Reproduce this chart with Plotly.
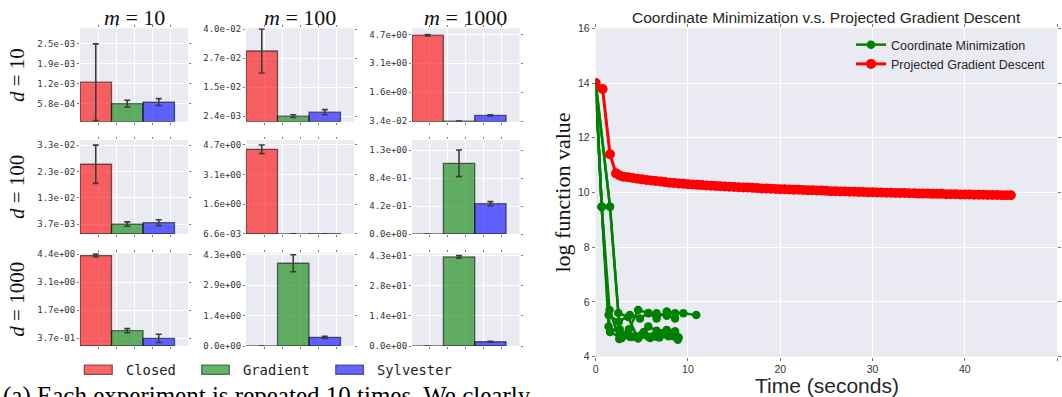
import numpy as np
import plotly.graph_objects as go

W, H = 1062, 397

# ---------------- data: left panel (run time bars) ----------------
methods = ["Closed", "Gradient", "Sylvester"]
d_values = [10, 100, 1000]
m_values = [10, 100, 1000]

# rows: d = 10, 100, 1000 ; columns: m = 10, 100, 1000 ; order: Closed, Gradient, Sylvester
means_d10 = [[1.27e-3, 0.58e-3, 0.63e-3], [3.05e-2, 0.24e-2, 0.41e-2], [4.66, 0.034, 0.34]]
errs_d10 = [[1.23e-3, 0.11e-3, 0.11e-3], [0.95e-2, 0.06e-2, 0.11e-2], [0.04, 0.005, 0.03]]
means_d100 = [[2.59e-2, 0.37e-2, 0.42e-2], [4.47, 0.0066, 0.012], [0.0, 1.06, 0.455]]
errs_d100 = [[0.71e-2, 0.08e-2, 0.11e-2], [0.23, 0.002, 0.003], [0.0, 0.2, 0.03]]
means_d1000 = [[4.37, 0.74, 0.37], [0.0, 3.9, 0.41], [0.0, 42.0, 2.0]]
errs_d1000 = [[0.07, 0.1, 0.2], [0.0, 0.4, 0.05], [0.0, 0.6, 0.2]]

ticklabels_d10 = [["5.8e-04", "1.2e-03", "1.9e-03", "2.5e-03"],
                  ["2.4e-03", "1.5e-02", "2.7e-02", "4.0e-02"],
                  ["3.4e-02", "1.6e+00", "3.1e+00", "4.7e+00"]]
ticklabels_d100 = [["3.7e-03", "1.3e-02", "2.3e-02", "3.3e-02"],
                   ["6.6e-03", "1.6e+00", "3.1e+00", "4.7e+00"],
                   ["0.0e+00", "4.2e-01", "8.4e-01", "1.3e+00"]]
ticklabels_d1000 = [["3.7e-01", "1.7e+00", "3.1e+00", "4.4e+00"],
                    ["0.0e+00", "1.4e+00", "2.9e+00", "4.3e+00"],
                    ["0.0e+00", "1.4e+01", "2.8e+01", "4.3e+01"]]
ytop_d10 = [3.0e-3, 4.03e-2, 5.03]
ytop_d100 = [3.49e-2, 4.96, 1.41]
ytop_d1000 = [4.48, 4.37, 43.7]

# ---------------- data: right panel (log function value vs time) ----------------
cm_runs = [
    [(0, 14.0), (0.65, 9.48), (1.4, 5.52), (2.5, 5.28), (3.7, 5.52), (4.8, 5.4), (5.7, 5.6),
     (6.6, 5.4), (7.7, 5.65), (8.6, 5.59), (9.5, 5.59), (10.9, 5.52)],
    [(0, 14.0), (0.65, 9.48), (1.4, 5.1), (2.6, 4.86), (3.7, 4.73), (4.6, 4.67), (5.7, 4.73),
     (6.6, 4.73), (7.7, 4.8), (8.8, 4.73)],
    [(0, 14.0), (0.65, 9.48), (1.55, 4.9), (2.8, 4.67), (3.6, 5.0), (4.6, 5.71), (5.7, 5.59),
     (6.6, 5.59), (7.7, 5.5), (8.6, 5.4)],
    [(0, 14.0), (1.55, 9.48), (2.45, 5.6), (3.5, 5.45), (4.6, 4.67), (5.7, 5.1), (6.6, 4.95),
     (7.7, 4.98), (8.6, 4.93), (9.0, 4.7)],
    [(0, 14.0), (1.55, 9.48), (2.6, 5.0), (3.3, 4.8), (4.2, 4.75), (5.2, 4.9), (6.2, 4.75),
     (7.3, 4.85), (8.4, 4.75), (8.9, 4.62)],
    [(0, 14.0), (0.65, 9.48), (1.5, 5.71), (2.55, 4.65), (3.9, 4.72), (4.9, 4.78), (5.9, 4.68),
     (6.9, 4.7), (7.9, 4.75), (8.6, 4.85)],
]

pgd_time = [0, 0.75, 1.55, 2.2, 2.6, 3.0, 3.5, 4.0, 4.5, 5.0, 5.5, 6.0, 6.5, 7.0, 7.5, 8.0, 8.5,
            9.0, 9.5, 10.0, 10.5, 11.0, 11.5, 12.0, 12.5, 13.0, 13.5, 14.0, 14.5, 15.0, 15.5,
            16.0, 16.5, 17.0, 17.5, 18.0, 18.5, 19.0, 19.5, 20.0, 20.5, 21.0, 21.5, 22.0, 22.5,
            23.0, 23.5, 24.0, 24.5, 25.0, 25.5, 26.0, 26.5, 27.0, 27.5, 28.0, 28.5, 29.0, 29.5,
            30.0, 30.5, 31.0, 31.5, 32.0, 32.5, 33.0, 33.5, 34.0, 34.5, 35.0, 35.5, 36.0, 36.5,
            37.0, 37.5, 38.0, 38.5, 39.0, 39.5, 40.0, 40.5, 41.0, 41.5, 42.0, 42.5, 43.0, 43.5,
            44.0, 44.5, 45.0]
pgd_value = [14.0, 13.78, 11.4, 10.7, 10.62, 10.58, 10.56, 10.53, 10.50, 10.48, 10.46, 10.44,
             10.42, 10.40, 10.38, 10.36, 10.35, 10.33, 10.32, 10.30, 10.29, 10.28, 10.27, 10.26,
             10.25, 10.24, 10.23, 10.22, 10.21, 10.20, 10.19, 10.18, 10.18, 10.17, 10.16, 10.15,
             10.15, 10.14, 10.13, 10.12, 10.12, 10.11, 10.10, 10.10, 10.09, 10.08, 10.08, 10.07,
             10.07, 10.06, 10.05, 10.05, 10.04, 10.04, 10.03, 10.03, 10.02, 10.02, 10.01, 10.01,
             10.00, 10.00, 9.99, 9.99, 9.98, 9.98, 9.98, 9.97, 9.97, 9.96, 9.96, 9.96, 9.95,
             9.95, 9.95, 9.94, 9.94, 9.94, 9.93, 9.93, 9.93, 9.92, 9.92, 9.92, 9.91, 9.91, 9.91,
             9.90, 9.90, 9.90]

# ---------------- styling ----------------
BG = "#EAEAF2"
bar_colors = ["rgba(255,0,0,0.6)", "rgba(0,128,0,0.6)", "rgba(0,0,255,0.6)"]
edge = "rgba(0,0,0,0.55)"
mono = "DejaVu Sans Mono"
serif = "Liberation Serif"
sans = "Liberation Sans"

col_px = [(80, 188), (246, 354), (412, 519.5)]
row_px = [(28.3, 121.7), (140, 234), (253.3, 346)]

all_means = [means_d10, means_d100, means_d1000]
all_errs = [errs_d10, errs_d100, errs_d1000]
all_ticks = [ticklabels_d10, ticklabels_d100, ticklabels_d1000]
all_ytop = [ytop_d10, ytop_d100, ytop_d1000]

bar_w = 0.35
bar_x = [bar_w * (i + 0.5) for i in range(len(methods))]
x_grid = [0.2, 0.4, 0.6, 0.8, 1.0]

fig = go.Figure()
layout_axes = {}

for r in range(3):
    for c in range(3):
        k = r * 3 + c + 1
        sx = "" if k == 1 else str(k)
        mu = all_means[r][c]
        er = all_errs[r][c]
        fig.add_trace(go.Bar(
            x=bar_x, y=mu, width=[bar_w] * 3,
            marker=dict(color=bar_colors, line=dict(color=edge, width=1.3)),
            error_y=dict(type="data", array=er, visible=True, color="#3c3c3c",
                         thickness=1.6, width=3),
            xaxis="x" + sx, yaxis="y" + sx, showlegend=False, hoverinfo="skip"))
        lo = min(mu)
        hi = max(m + e for m, e in zip(mu, er))
        tv = list(np.linspace(lo, hi, 4))
        x0, x1 = col_px[c]
        y0, y1 = row_px[r]
        layout_axes["xaxis" + sx] = dict(
            domain=[x0 / W, x1 / W], range=[0, 1.2], anchor="y" + sx,
            tickvals=x_grid, showticklabels=False, showgrid=True, gridcolor="white",
            gridwidth=1, zeroline=False, showline=False, ticks="outside", ticklen=2,
            tickcolor="#777", mirror="ticks", fixedrange=True, automargin=False)
        layout_axes["yaxis" + sx] = dict(
            domain=[1 - y1 / H, 1 - y0 / H], range=[0, all_ytop[r][c]], anchor="x" + sx,
            tickvals=tv, ticktext=all_ticks[r][c], showgrid=True, gridcolor="white",
            gridwidth=1, zeroline=False, showline=False, ticks="outside", ticklen=2,
            tickcolor="#777", mirror="ticks", automargin=False, ticklabelstandoff=0,
            tickfont=dict(family=mono, size=9, color="#333"), fixedrange=True)

# right panel
cm_x, cm_y = [], []
for run in cm_runs:
    for t, v in run:
        cm_x.append(t)
        cm_y.append(v)
    cm_x.append(None)
    cm_y.append(None)

fig.add_trace(go.Scatter(
    x=cm_x, y=cm_y, mode="lines+markers", name="Coordinate Minimization",
    line=dict(color="#008000", width=2.5), marker=dict(color="#008000", size=8.5),
    connectgaps=False, xaxis="x10", yaxis="y10", hoverinfo="skip"))
fig.add_trace(go.Scatter(
    x=pgd_time, y=pgd_value, mode="lines+markers", name="Projected Gradient Descent",
    line=dict(color="#FF0000", width=3), marker=dict(color="#FF0000", size=10),
    xaxis="x10", yaxis="y10", hoverinfo="skip"))

layout_axes["xaxis10"] = dict(
    domain=[595.7 / W, 1057 / W], range=[0, 50], anchor="y10", automargin=False,
    tickvals=[0, 10, 20, 30, 40, 50], showgrid=True, gridcolor="white", gridwidth=1.2,
    zeroline=False, showline=False, ticks="outside", ticklen=3, tickcolor="#777",
    mirror="ticks", tickfont=dict(family=sans, size=10.5, color="#333"))
layout_axes["yaxis10"] = dict(
    domain=[1 - 356.7 / H, 1 - 28.3 / H], range=[4, 16], anchor="x10", automargin=False,
    tickvals=[4, 6, 8, 10, 12, 14, 16], showgrid=True, gridcolor="white", gridwidth=1.2,
    zeroline=False, showline=False, ticks="outside", ticklen=3, tickcolor="#777",
    mirror="ticks", tickfont=dict(family=sans, size=10.5, color="#333"))

annotations = []
col_centers = [(a + b) / 2 for a, b in col_px]
row_centers = [(a + b) / 2 for a, b in row_px]
for c, m in enumerate(m_values):
    annotations.append(dict(
        text=f"<i>m</i> = {m}", x=col_centers[c] / W, y=1 - 17 / H, xref="paper", yref="paper",
        xanchor="center", yanchor="middle", showarrow=False,
        font=dict(family=serif, size=22, color="#111")))
for r, d in enumerate(d_values):
    annotations.append(dict(
        text=f"<i>d</i> = {d}", x=17 / W, y=1 - row_centers[r] / H, xref="paper", yref="paper",
        xanchor="center", yanchor="middle", textangle=-90, showarrow=False,
        font=dict(family=serif, size=21, color="#111")))

# legend of the bar panel
patch_px = [(84.3, 112.3), (201.7, 229.3), (335.7, 363.5)]
text_px = [124, 240.7, 375]
shapes = []
for i, name in enumerate(methods):
    a, b = patch_px[i]
    shapes.append(dict(type="rect", xref="paper", yref="paper", x0=a / W, x1=b / W,
                       y0=1 - 374.3 / H, y1=1 - 365 / H, fillcolor=bar_colors[i],
                       line=dict(color=edge, width=1.2)))
    annotations.append(dict(
        text=name, x=text_px[i] / W, y=1 - 369.6 / H, xref="paper", yref="paper",
        xanchor="left", yanchor="middle", showarrow=False,
        font=dict(family=mono, size=13.8, color="#222")))

# caption fragment at the bottom
annotations.append(dict(
    text="(a) Each experiment is repeated 10 times. We clearly", x=1 / W, y=1 - 380 / H,
    xref="paper", yref="paper", xanchor="left", yanchor="top", showarrow=False,
    font=dict(family=serif, size=25, color="#000")))

# right panel titles
annotations.append(dict(
    text="Coordinate Minimization v.s. Projected Gradient Descent", x=826.5 / W,
    y=1 - 18 / H, xref="paper", yref="paper", xanchor="center", yanchor="middle",
    showarrow=False, font=dict(family=sans, size=15.5, color="#262626")))
annotations.append(dict(
    text="log function value", x=562 / W, y=1 - 192.5 / H, xref="paper", yref="paper",
    xanchor="center", yanchor="middle", textangle=-90, showarrow=False,
    font=dict(family=serif, size=22, color="#111")))
annotations.append(dict(
    text="Time (seconds)", x=827 / W, y=1 - 385 / H, xref="paper", yref="paper",
    xanchor="center", yanchor="middle", showarrow=False,
    font=dict(family=sans, size=21, color="#262626")))

fig.update_layout(
    width=W, height=H, margin=dict(l=0, r=0, t=0, b=0, pad=0, autoexpand=False),
    paper_bgcolor="white", plot_bgcolor=BG, template="none",
    showlegend=True, hovermode=False,
    legend=dict(x=851 / W, y=1 - 30 / H, xanchor="left", yanchor="top",
                bgcolor="rgba(0,0,0,0)", borderwidth=0, tracegroupgap=0,
                font=dict(family=sans, size=12.5, color="#262626")),
    annotations=annotations, shapes=shapes, **layout_axes)

fig.write_html("out.html", config={"displayModeBar": False},
               post_script="document.body.style.margin='0px';document.body.style.padding='0px';")
